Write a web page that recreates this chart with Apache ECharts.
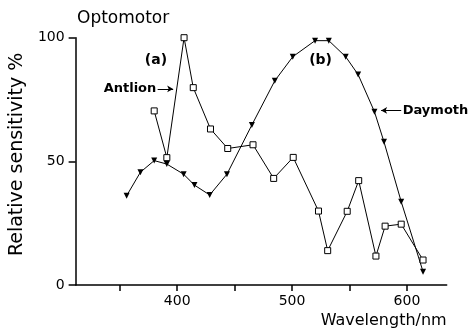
<!DOCTYPE html>
<html>
<head>
<meta charset="utf-8">
<script src="https://cdn.jsdelivr.net/npm/echarts@6/dist/echarts.min.js"></script>
<style>
html,body{margin:0;padding:0;background:#fff;}
#chart{width:471px;height:332px;}
</style>
</head>
<body>
<div id="chart"></div>
<script>
// Antlion (open squares)
const antlionWavelength = [380, 391, 406, 414, 429, 444, 466, 484, 501, 523, 531, 548, 558, 573, 581, 595, 614];
const antlionSensitivity = [70.4, 51.5, 100, 79.8, 63.1, 55.2, 56.7, 43.1, 51.6, 29.9, 13.9, 29.8, 42.2, 11.7, 23.8, 24.6, 10.1];
// Daymoth (filled triangles)
const daymothWavelength = [356, 368, 380, 391, 405.6, 415, 428.3, 443.3, 465, 485, 500.6, 520, 532, 546.7, 557.5, 571.7, 580, 595, 614];
const daymothSensitivity = [36.1, 45.6, 50.3, 48.9, 44.8, 40.4, 36.4, 44.8, 64.7, 82.6, 92.3, 98.8, 98.8, 92.3, 85.1, 70.1, 57.9, 33.7, 5.4];
// axis ticks / labels
const xTickValues = [350, 400, 450, 500, 550, 600];
const xLabelValues = [400, 500, 600];
const yTickValues = [0, 50, 100];
// annotations: [text, wavelength, sensitivity]
const annotationTexts = ['(a)', 'Antlion', '(b)', 'Daymoth'];
const annotationWavelength = [381.5, 381.8, 524.8, 596.3];
const annotationSensitivity = [91, 79.3, 91, 70.6];
// arrows: [fromWavelength, fromSensitivity, toWavelength, toSensitivity]
const arrows = [
  [383, 79.3, 396.5, 79.3],
  [595, 70.6, 577.5, 70.6]
];

const FONT = 'DejaVu Sans';
const annotationStyle = {
  '(a)': {align: 'center', fontSize: 14},
  'Antlion': {align: 'right', fontSize: 13},
  '(b)': {align: 'center', fontSize: 14},
  'Daymoth': {align: 'left', fontSize: 13}
};
const chart = echarts.init(document.getElementById('chart'), null, {renderer: 'canvas'});

const zipXY = (xs, ys) => xs.map((x, i) => [x, ys[i]]);

chart.setOption({
  animation: false,
  backgroundColor: '#fff',
  title: {
    text: 'Optomotor',
    left: 72,
    top: 5,
    textStyle: {fontFamily: FONT, fontSize: 17, fontWeight: 'normal', color: '#000'}
  },
  grid: {left: 67, right: 24.3, top: 37.7, bottom: 47},
  xAxis: {
    type: 'value',
    min: 311.6,
    max: 634.6,
    name: 'Wavelength/nm',
    nameLocation: 'end',
    nameGap: 0,
    nameTextStyle: {fontFamily: FONT, fontSize: 16, color: '#000', align: 'right', verticalAlign: 'top', padding: [28, 0, 0, 0]},
    axisLine: {show: true, lineStyle: {color: '#000', width: 1.5}},
    axisTick: {show: true, length: 6, inside: false, customValues: xTickValues, lineStyle: {color: '#000', width: 1.5}},
    axisLabel: {show: true, customValues: xLabelValues, margin: 9, fontFamily: FONT, fontSize: 14, color: '#000'},
    splitLine: {show: false}
  },
  yAxis: {
    type: 'value',
    min: 0,
    max: 100,
    interval: 50,
    name: 'Relative sensitivity %',
    nameLocation: 'middle',
    nameGap: 40,
    nameTextStyle: {fontFamily: FONT, fontSize: 19, color: '#000', padding: [0, 0, 0, 14]},
    axisLine: {show: true, lineStyle: {color: '#000', width: 1.5}},
    axisTick: {show: true, length: 7, inside: false, customValues: yTickValues, lineStyle: {color: '#000', width: 1.5}},
    axisLabel: {show: true, margin: 11, fontFamily: FONT, fontSize: 14, color: '#000'},
    splitLine: {show: false}
  },
  series: [
    {
      name: 'Antlion',
      type: 'line',
      data: zipXY(antlionWavelength, antlionSensitivity),
      symbol: 'rect',
      symbolSize: 6,
      showAllSymbol: true,
      itemStyle: {color: '#fff', borderColor: '#000', borderWidth: 1},
      lineStyle: {color: '#000', width: 1},
      z: 3,
      markLine: {
        silent: true,
        symbol: ['none', 'arrow'],
        symbolSize: [5, 6],
        label: {show: false},
        lineStyle: {color: '#000', width: 1, type: 'solid'},
        data: arrows.map(a => [{coord: [a[0], a[1]]}, {coord: [a[2], a[3]]}])
      }
    },
    {
      name: 'Daymoth',
      type: 'line',
      data: zipXY(daymothWavelength, daymothSensitivity),
      symbol: 'triangle',
      symbolRotate: 180,
      symbolSize: 6,
      showAllSymbol: true,
      itemStyle: {color: '#000', borderColor: '#000', borderWidth: 0},
      lineStyle: {color: '#000', width: 1},
      z: 2
    }
  ]
});

chart.setOption({
  graphic: annotationTexts.map((t, i) => {
    const p = chart.convertToPixel({gridIndex: 0}, [annotationWavelength[i], annotationSensitivity[i]]);
    const s = annotationStyle[t];
    return {
      type: 'text',
      x: p[0],
      y: p[1],
      silent: true,
      style: {text: t, align: s.align, verticalAlign: 'middle', fontFamily: FONT, fontSize: s.fontSize, fontWeight: 'bold', fill: '#000'}
    };
  })
});
</script>
</body>
</html>
